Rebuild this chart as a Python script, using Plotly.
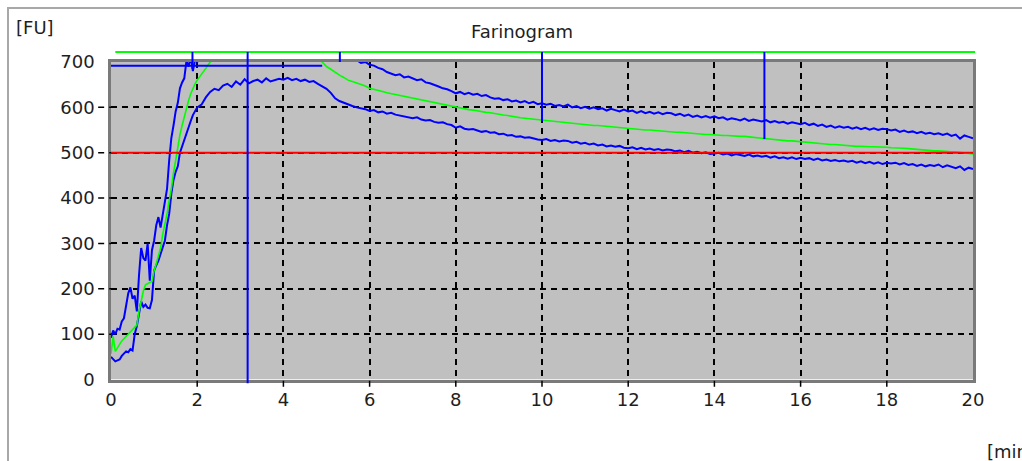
import plotly.graph_objects as go

# ---------------- data ----------------
X_TICKS = [0, 2, 4, 6, 8, 10, 12, 14, 16, 18, 20]
Y_TICKS = [0, 100, 200, 300, 400, 500, 600, 700]
X_GRID = [2, 4, 6, 8, 10, 12, 14, 16, 18]
Y_GRID = [100, 200, 300, 400, 500, 600]
X_MAX = 20
Y_MAX = 700

T_EARLY = [0.00, 0.05, 0.10, 0.15, 0.20, 0.25, 0.30, 0.35, 0.40, 0.45,
           0.50, 0.55, 0.60, 0.65, 0.70, 0.75, 0.80, 0.85, 0.90, 0.95,
           1.00, 1.05, 1.10, 1.15, 1.20, 1.25, 1.30, 1.35, 1.40, 1.45,
           1.50, 1.55, 1.60, 1.65, 1.70, 1.75, 1.80, 1.85, 1.90, 1.95]

UPPER_EARLY = [92, 108, 100, 112, 110, 128, 135, 160, 190, 203,
               178, 185, 150, 230, 290, 268, 262, 300, 218, 285,
               306, 340, 358, 335, 365, 387, 420, 483, 532, 560,
               591, 610, 642, 655, 664, 702, 690, 712, 680, 705]

LOWER_EARLY = [50, 45, 40, 42, 44, 52, 57, 62, 60, 67,
               64, 100, 118, 143, 172, 160, 165, 158, 157, 175,
               240, 252, 262, 277, 290, 306, 340, 365, 410, 440,
               458, 470, 500, 515, 530, 545, 555, 570, 583, 592]

MEDIAN_EARLY = [57, 95, 62, 70, 78, 85, 90, 95, 100, 105,
                110, 115, 120, 150, 172, 195, 209, 212, 214, 216,
                240, 255, 270, 290, 320, 340, 365, 395, 420, 455,
                485, 515, 540, 560, 580, 597, 615, 630, 643, 652]

T_MAIN = [2.0, 2.1, 2.2, 2.3, 2.4, 2.5, 2.6, 2.7, 2.8, 2.9,
          3.0, 3.1, 3.2, 3.3, 3.4, 3.5, 3.6, 3.7, 3.8, 3.9,
          4.0, 4.1, 4.2, 4.3, 4.4, 4.5, 4.6, 4.7, 4.8, 4.9,
          5.0, 5.1, 5.2, 5.3, 5.4, 5.5, 5.6, 5.7, 5.8, 5.9,
          6.0, 6.1, 6.2, 6.3, 6.4, 6.5, 6.6, 6.7, 6.8, 6.9,
          7.0, 7.1, 7.2, 7.3, 7.4, 7.5, 7.6, 7.7, 7.8, 7.9,
          8.0, 8.1, 8.2, 8.3, 8.4, 8.5, 8.6, 8.7, 8.8, 8.9,
          9.0, 9.1, 9.2, 9.3, 9.4, 9.5, 9.6, 9.7, 9.8, 9.9,
          10.0, 10.1, 10.2, 10.3, 10.4, 10.5, 10.6, 10.7, 10.8, 10.9,
          11.0, 11.1, 11.2, 11.3, 11.4, 11.5, 11.6, 11.7, 11.8, 11.9,
          12.0, 12.1, 12.2, 12.3, 12.4, 12.5, 12.6, 12.7, 12.8, 12.9,
          13.0, 13.1, 13.2, 13.3, 13.4, 13.5, 13.6, 13.7, 13.8, 13.9,
          14.0, 14.1, 14.2, 14.3, 14.4, 14.5, 14.6, 14.7, 14.8, 14.9,
          15.0, 15.1, 15.2, 15.3, 15.4, 15.5, 15.6, 15.7, 15.8, 15.9,
          16.0, 16.1, 16.2, 16.3, 16.4, 16.5, 16.6, 16.7, 16.8, 16.9,
          17.0, 17.1, 17.2, 17.3, 17.4, 17.5, 17.6, 17.7, 17.8, 17.9,
          18.0, 18.1, 18.2, 18.3, 18.4, 18.5, 18.6, 18.7, 18.8, 18.9,
          19.0, 19.1, 19.2, 19.3, 19.4, 19.5, 19.6, 19.7, 19.8, 19.9,
          20.0]

UPPER_MAIN = [700, 712, 728, 735, 742, 748, 752, 755, 758, 760,
              762, 760, 765, 768, 766, 770, 768, 772, 770, 774,
              772, 770, 774, 771, 768, 765, 760, 752, 744, 738,
              733, 726, 720, 715, 711, 708, 706, 704, 698, 700,
              694, 692, 687, 684, 678, 675, 671, 673, 666, 668,
              664, 660, 662, 655, 653, 650, 646, 642, 640, 636,
              631, 634, 629, 632, 628, 630, 625, 627, 622, 619,
              620, 616, 618, 613, 615, 611, 614, 609, 612, 607,
              609, 606, 608, 603, 605, 602, 606, 600, 603, 598,
              601, 597, 600, 596, 598, 593, 597, 594, 591, 595,
              591, 593, 588, 592, 587, 590, 586, 589, 585, 588,
              587, 583, 586, 581, 584, 579, 582, 578, 581, 577,
              580, 576, 578, 573, 576, 574, 571, 575, 570, 573,
              571, 569, 572, 567, 570, 566, 568, 564, 567, 565,
              563, 566, 561, 564, 559, 562, 557, 560, 555, 558,
              555, 557, 553, 556, 552, 555, 551, 554, 550, 553,
              552, 549, 551, 546, 549, 545, 547, 543, 546, 542,
              544, 541, 543, 539, 542, 537, 540, 531, 538, 535,
              532]

LOWER_MAIN = [600, 606, 622, 634, 641, 638, 648, 652, 645, 657,
              650, 662, 653, 658, 661, 655, 664, 657, 660, 663,
              661, 665, 660, 663, 658, 661, 656, 658, 652, 646,
              641, 632, 620, 614, 610, 606, 603, 600, 598, 596,
              592, 594, 589, 591, 586, 588, 584, 582, 580, 578,
              576, 578, 573, 571, 572, 568, 566, 567, 563, 561,
              555, 558, 553, 551, 552, 549, 546, 548, 544, 545,
              541, 542, 538, 539, 535, 536, 533, 534, 531, 529,
              528, 530, 526, 528, 525, 527, 526, 522, 524, 520,
              522, 518, 520, 516, 518, 514, 516, 513, 515, 511,
              510, 512, 508, 511, 507, 509, 506, 508, 505, 507,
              506, 503, 505, 501, 504, 500, 502, 499, 501, 497,
              498, 500, 496, 498, 494, 497, 495, 493, 496, 492,
              494, 491, 493, 489, 492, 488, 490, 487, 490, 486,
              489, 486, 488, 484, 487, 483, 485, 482, 484, 481,
              483, 480, 482, 478, 481, 477, 480, 476, 479, 475,
              478, 476, 478, 474, 477, 473, 475, 471, 474, 470,
              473, 471, 474, 468, 472, 469, 466, 470, 462, 467,
              464]

MEDIAN_MAIN = [660, 672, 686, 700, 712, 720, 726, 730, 733, 735,
               737, 738, 739, 740, 740, 741, 741, 741, 741, 741,
               741, 740, 739, 738, 736, 733, 728, 720, 710, 700,
               690, 684, 677, 671, 666, 660, 657, 654, 651, 647,
               642, 640, 637, 635, 632, 630, 628, 626, 624, 622,
               620, 618, 616, 614, 612, 610, 609, 607, 605, 603,
               600, 599, 597, 595, 594, 592, 591, 589, 588, 586,
               585, 583, 582, 580, 578, 577, 576, 575, 574, 573,
               571, 570, 569, 568, 567, 566, 566, 565, 564, 563,
               562, 561, 560, 560, 559, 558, 557, 556, 555, 555,
               554, 553, 552, 551, 550, 550, 549, 548, 547, 547,
               546, 545, 545, 544, 543, 542, 542, 541, 540, 540,
               539, 539, 538, 538, 537, 537, 536, 536, 535, 534,
               533, 532, 530, 529, 528, 528, 527, 526, 526, 525,
               524, 523, 522, 522, 521, 520, 519, 518, 518, 517,
               516, 515, 514, 514, 514, 513, 513, 513, 513, 512,
               512, 511, 511, 510, 510, 509, 508, 507, 507, 506,
               505, 504, 504, 503, 503, 502, 502, 501, 500, 499,
               497]

CONSISTENCY_LINE = 500          # red line
CONSISTENCY_T = [0, 20]
PEAK_LEVEL = 692                # blue horizontal line
PEAK_T = [0, 4.9]
TOP_LEVEL = 722                 # green line above the chart
TOP_T = [0.1, 20.05]
MARK_T = [1.89, 3.17, 5.31, 10.0, 15.16]
MARK_END = [685, -8, 700, 570, 530]
TICK_EXT_END = -16              # how far the dashed x grid runs below 0

# ---------------- layout geometry ----------------
W, H = 1022, 461
ML, MR, MT, MB = 96, 38, 46, 66
PW, PH = W - ML - MR, H - MT - MB
GX0, GX1 = 111, 973      # pixel extent of the grey area
GYB, GYT = 379.5, 62     # bottom / top pixel of grey area

kx = (GX1 - GX0) / X_MAX
ky = (GYB - GYT) / Y_MAX
x2_range = [(ML - GX0) / kx, (W - MR - GX0) / kx]
y2_range = [-((H - MB) - GYB) / ky, (GYB - MT) / ky]
x_dom = [(GX0 - ML) / PW, (GX1 - ML) / PW]
y_dom = [((H - MB) - GYB) / PH, ((H - MB) - GYT) / PH]


def px(xp):
    return (xp - ML) / PW


def py(yp):
    return ((H - MB) - yp) / PH


FONT = "DejaVu Sans"
TXT = "#1e1e1e"
BLUE = "#0000ff"
GREEN = "#00ff00"
RED = "#ff0000"

fig = go.Figure()

# curves inside the grey chart area (clipped there)
fig.add_trace(go.Scatter(x=T_EARLY + T_MAIN, y=UPPER_EARLY + UPPER_MAIN, mode="lines",
                         line=dict(color=BLUE, width=2), xaxis="x", yaxis="y"))
fig.add_trace(go.Scatter(x=T_EARLY + T_MAIN, y=LOWER_EARLY + LOWER_MAIN, mode="lines",
                         line=dict(color=BLUE, width=2), xaxis="x", yaxis="y"))
fig.add_trace(go.Scatter(x=T_EARLY + T_MAIN, y=MEDIAN_EARLY + MEDIAN_MAIN, mode="lines",
                         line=dict(color=GREEN, width=1.6), xaxis="x", yaxis="y"))
fig.add_trace(go.Scatter(x=CONSISTENCY_T, y=[CONSISTENCY_LINE] * 2, mode="lines",
                         line=dict(color=RED, width=2), xaxis="x", yaxis="y"))
fig.add_trace(go.Scatter(x=PEAK_T, y=[PEAK_LEVEL] * 2, mode="lines",
                         line=dict(color=BLUE, width=2), xaxis="x", yaxis="y"))

# tick extensions outside the grey area (overlay axes)
ext_x, ext_y = [], []
for v in Y_GRID:
    ext_x += [x2_range[0] + 0.05, 0, None]
    ext_y += [v, v, None]
for v in X_GRID:
    ext_x += [v, v, None]
    ext_y += [TICK_EXT_END, 0, None]
fig.add_trace(go.Scatter(x=ext_x, y=ext_y, mode="lines",
                         line=dict(color="black", width=1.5, dash="6px,5px"),
                         xaxis="x2", yaxis="y2"))

# green line above chart and blue markers (overlay axes, not clipped by grey area)
fig.add_trace(go.Scatter(x=TOP_T, y=[TOP_LEVEL] * 2, mode="lines",
                         line=dict(color=GREEN, width=2), xaxis="x2", yaxis="y2"))
mx, my = [], []
for t, e in zip(MARK_T, MARK_END):
    mx += [t, t, None]
    my += [TOP_LEVEL, e, None]
fig.add_trace(go.Scatter(x=mx, y=my, mode="lines",
                         line=dict(color=BLUE, width=2), xaxis="x2", yaxis="y2"))

fig.update_layout(
    width=W, height=H,
    margin=dict(l=ML, r=MR, t=MT, b=MB, pad=0),
    paper_bgcolor="white", plot_bgcolor="rgba(0,0,0,0)",
    showlegend=False, hovermode=False,
    xaxis=dict(domain=x_dom, range=[0, X_MAX], anchor="y",
               tickmode="array", tickvals=X_TICKS, ticks="",
               ticklabelstandoff=2,
               showgrid=True, gridcolor="black", gridwidth=1.5, griddash="6px,5px",
               showline=True, mirror=True, linecolor="#7a7a7a", linewidth=2.5,
               zeroline=False, tickfont=dict(family=FONT, size=18, color=TXT)),
    yaxis=dict(domain=y_dom, range=[0, Y_MAX], anchor="x",
               tickmode="array", tickvals=Y_TICKS, ticks="",
               ticklabelstandoff=10,
               showgrid=True, gridcolor="black", gridwidth=1.5, griddash="6px,5px",
               showline=True, mirror=True, linecolor="#7a7a7a", linewidth=2.5,
               zeroline=False, tickfont=dict(family=FONT, size=18, color=TXT)),
    xaxis2=dict(domain=[0, 1], range=x2_range, anchor="y2", visible=False),
    yaxis2=dict(domain=[0, 1], range=y2_range, anchor="x2", visible=False),
    shapes=[
        dict(type="rect", xref="x", yref="y", x0=0, x1=X_MAX, y0=0, y1=Y_MAX,
             fillcolor="#c0c0c0", line=dict(width=0), layer="below"),
        dict(type="path", xref="paper", yref="paper",
             path=f"M {px(8)},{py(H + 20)} L {px(8)},{py(8)} L {px(W + 20)},{py(8)}",
             line=dict(color="#a8a8a8", width=2)),
    ],
    annotations=[
        dict(text="Farinogram", xref="paper", yref="paper", x=px(522), y=py(31),
             xanchor="center", yanchor="middle", showarrow=False,
             font=dict(family=FONT, size=18, color=TXT)),
        dict(text="[FU]", xref="paper", yref="paper", x=px(14), y=py(27),
             xanchor="left", yanchor="middle", showarrow=False,
             font=dict(family=FONT, size=18, color=TXT)),
        dict(text="[min]", xref="paper", yref="paper", x=px(985), y=py(451),
             xanchor="left", yanchor="middle", showarrow=False,
             font=dict(family=FONT, size=18, color=TXT)),
    ],
)

fig.write_html("out.html")
